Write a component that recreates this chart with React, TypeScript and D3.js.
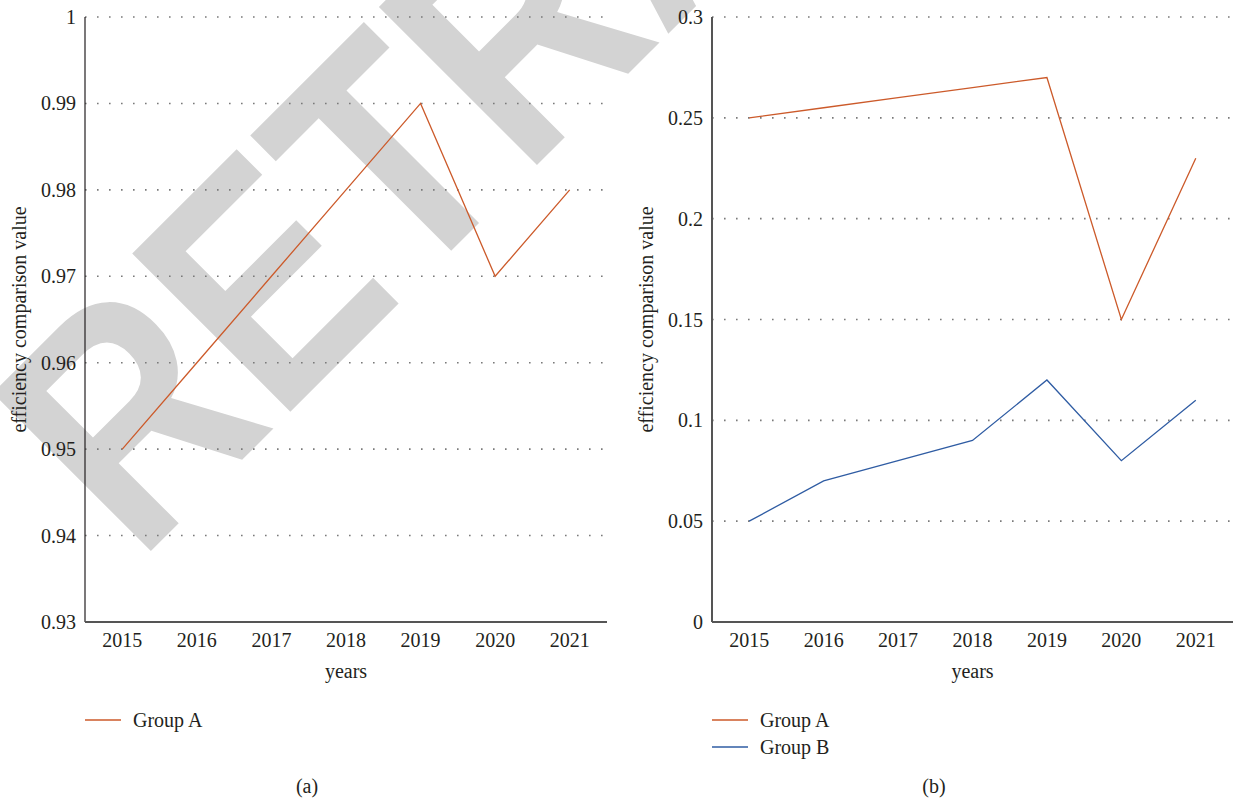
import React from "react";
import * as d3 from "d3";

// ---- data ----
const years = ["2015", "2016", "2017", "2018", "2019", "2020", "2021"];

// panel (a)
const groupA_a = [0.95, 0.96, 0.97, 0.98, 0.99, 0.97, 0.98];
const ticksA = [0.93, 0.94, 0.95, 0.96, 0.97, 0.98, 0.99, 1];

// panel (b)
const groupA_b = [0.25, 0.255, 0.26, 0.265, 0.27, 0.15, 0.23];
const groupB_b = [0.05, 0.07, 0.08, 0.09, 0.12, 0.08, 0.11];
const ticksB = [0, 0.05, 0.1, 0.15, 0.2, 0.25, 0.3];

const seriesNames = ["Group A", "Group B"];
const seriesColors = ["#cc5a2a", "#2f5ca3"];

const W = 1237;
const H = 801;
const FONT = '"Liberation Serif", "Times New Roman", Times, serif';
const textStyle = { fontFamily: FONT, fontSize: "20px" } as React.CSSProperties;

type PanelProps = {
  x0: number;
  x1: number;
  domain: [number, number];
  ticks: number[];
  fmt: (v: number) => string;
  series: number[][];
  names: string[];
  colors: string[];
  yAxisColor: string;
  yAxisWidth: number;
  titleX: number;
  caption: string;
};

function Panel(p: PanelProps) {
  const top = 17;
  const bottom = 622;
  const x = d3.scalePoint<string>().domain(years).range([p.x0, p.x1]).padding(0.5);
  const y = d3.scaleLinear().domain(p.domain).range([bottom, top]);
  const line = d3
    .line<number>()
    .x((_, i) => x(years[i]) as number)
    .y((v) => y(v));
  const midY = (top + bottom) / 2;
  const midX = (p.x0 + p.x1) / 2;

  return (
    <g style={textStyle} fill="#231f20">
      {/* horizontal dotted grid */}
      {p.ticks
        .filter((t) => t !== p.domain[0])
        .map((t) => (
          <line
            key={"g" + t}
            x1={p.x0}
            x2={p.x1}
            y1={y(t)}
            y2={y(t)}
            stroke="#7a7a7a"
            strokeWidth={1.6}
            strokeDasharray="1.6 10.4"
          />
        ))}
      {/* y tick labels */}
      {p.ticks.map((t) => (
        <text key={"t" + t} x={p.x0 - 9} y={y(t) + 7} textAnchor="end" style={textStyle}>
          {p.fmt(t)}
        </text>
      ))}
      {/* x tick labels */}
      {years.map((yr) => (
        <text key={yr} x={x(yr)} y={647} textAnchor="middle" style={textStyle}>
          {yr}
        </text>
      ))}
      {/* series */}
      {p.series.map((s, i) => (
        <path key={"s" + i} d={line(s) || ""} fill="none" stroke={p.colors[i]} strokeWidth={1.3} />
      ))}
      {/* axes */}
      <line x1={p.x0} x2={p.x0} y1={top} y2={bottom} stroke={p.yAxisColor} strokeWidth={p.yAxisWidth} />
      <line x1={p.x0} x2={p.x1} y1={bottom} y2={bottom} stroke="#555" strokeWidth={2} />
      {/* axis titles */}
      <text x={midX} y={678} textAnchor="middle" style={textStyle}>
        years
      </text>
      <text
        transform={`translate(${p.titleX},${midY}) rotate(-90)`}
        textAnchor="middle"
        style={textStyle}
      >
        efficiency comparison value
      </text>
      {/* legend */}
      {p.names.map((n, i) => (
        <g key={n} transform={`translate(${p.x0},${720 + i * 27})`}>
          <line x1={0} x2={36} y1={0} y2={0} stroke={p.colors[i]} strokeWidth={1.5} />
          <text x={48} y={6.5} style={textStyle}>
            {n}
          </text>
        </g>
      ))}
      {/* caption */}
      <text x={p.x0 + 222} y={793} textAnchor="middle" style={textStyle}>
        {p.caption}
      </text>
    </g>
  );
}

export default function App() {
  const fmtA = (v: number) => (v === 1 ? "1" : d3.format(".2f")(v));
  const fmtB = (v: number) => String(+v.toFixed(2));
  return (
    <svg
      width={W}
      height={H}
      viewBox={`0 0 ${W} ${H}`}
      style={{ position: "absolute", left: 0, top: 0, background: "#fff" }}
    >
      <rect width={W} height={H} fill="#fff" />
      {/* watermark */}
      <text
        transform="translate(138,564) rotate(-45) scale(0.84,1)"
        style={{
          fontFamily: '"Liberation Sans", Arial, sans-serif',
          fontWeight: 700,
          fontSize: "325px",
        }}
        fill="#d3d3d3"
      >
        RETRACTED
      </text>
      <Panel
        x0={85}
        x1={607}
        domain={[0.93, 1]}
        ticks={ticksA}
        fmt={fmtA}
        series={[groupA_a]}
        names={[seriesNames[0]]}
        colors={[seriesColors[0]]}
        yAxisColor="#231f20"
        yAxisWidth={1.2}
        titleX={26}
        caption="(a)"
      />
      <Panel
        x0={712}
        x1={1233}
        domain={[0, 0.3]}
        ticks={ticksB}
        fmt={fmtB}
        series={[groupA_b, groupB_b]}
        names={seriesNames}
        colors={seriesColors}
        yAxisColor="#555"
        yAxisWidth={2}
        titleX={653}
        caption="(b)"
      />
    </svg>
  );
}
